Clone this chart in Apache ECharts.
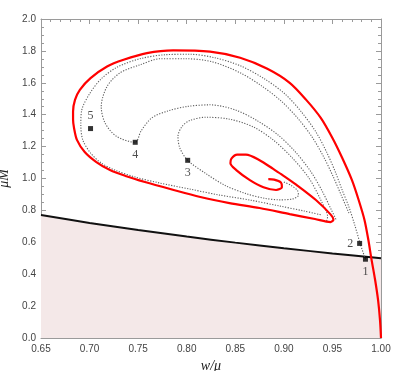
<!DOCTYPE html>
<html><head><meta charset="utf-8">
<script src="https://cdn.jsdelivr.net/npm/echarts@6/dist/echarts.min.js"></script>
<style>html,body{margin:0;padding:0;background:#fff}#c{width:400px;height:371px}</style>
</head><body><div id="c"></div>
<script>
// ---- data ----
const xTickLabels = ['0.65','0.70','0.75','0.80','0.85','0.90','0.95','1.00'];
const yTickLabels = ['0.0','0.2','0.4','0.6','0.8','1.0','1.2','1.4','1.6','1.8','2.0'];

const boundaryX = [0.65, 0.70, 0.75, 0.80, 0.85, 0.90, 0.95, 1.00];
const boundaryY = [0.771, 0.721, 0.677, 0.636, 0.598, 0.563, 0.530, 0.500];

const redCurve = [
  [1.000,0.000],[0.999,0.111],[0.997,0.237],[0.994,0.362],[0.990,0.501],[0.987,0.614],
  [0.983,0.740],[0.977,0.865],[0.970,0.991],[0.960,1.130],[0.950,1.254],[0.938,1.380],
  [0.923,1.493],[0.906,1.600],[0.883,1.688],[0.855,1.757],[0.824,1.795],[0.786,1.803],
  [0.759,1.786],[0.735,1.744],[0.718,1.702],[0.701,1.629],[0.690,1.556],[0.685,1.493],
  [0.683,1.420],[0.683,1.370],[0.684,1.317],[0.687,1.242],[0.695,1.166],[0.707,1.103],
  [0.721,1.053],[0.737,1.016],[0.757,0.978],[0.783,0.934],[0.814,0.884],[0.844,0.846],
  [0.875,0.815],[0.906,0.777],[0.932,0.746],[0.948,0.727],[0.951,0.742],[0.948,0.775],
  [0.933,0.865],[0.913,0.960],[0.899,1.020],[0.889,1.060],[0.875,1.115],[0.861,1.150],
  [0.852,1.150],[0.846,1.125],[0.845,1.095],[0.851,1.053],[0.865,0.990],[0.879,0.945],
  [0.892,0.928],[0.898,0.945],[0.897,0.975],[0.890,0.993],[0.884,0.996]
];

const dottedOuter = [
  [0.984,0.494],[0.9785,0.593],[0.973,0.708],[0.967,0.821],[0.960,0.928],[0.953,1.041],
  [0.944,1.166],[0.933,1.292],[0.918,1.418],[0.901,1.531],[0.880,1.625],[0.855,1.707],
  [0.829,1.757],[0.803,1.779],[0.778,1.776],[0.752,1.751],[0.729,1.700],[0.712,1.625],
  [0.700,1.531],[0.692,1.430],[0.691,1.336],[0.693,1.242],[0.701,1.160],[0.712,1.097],
  [0.726,1.053],[0.747,1.009],[0.772,0.972],[0.803,0.934],[0.834,0.896],[0.865,0.865],
  [0.896,0.827],[0.921,0.796],[0.939,0.771]
];

const dottedMiddle = [
  [0.967,0.783],[0.959,0.896],[0.951,1.009],[0.941,1.135],[0.929,1.261],[0.914,1.380],
  [0.897,1.487],[0.877,1.581],[0.855,1.663],[0.826,1.732],[0.798,1.751],[0.773,1.751],
  [0.752,1.713],[0.731,1.661],[0.718,1.577],[0.712,1.451],[0.716,1.347],[0.728,1.263],
  [0.747,1.227],[0.753,1.298],[0.764,1.380],[0.781,1.424],[0.801,1.452],[0.824,1.462],
  [0.850,1.430],[0.873,1.361],[0.894,1.273],[0.912,1.166],[0.928,1.041],[0.940,0.915],
  [0.949,0.802],[0.954,0.739]
];

const dottedInner = [
  [0.900,0.978],[0.908,0.955],[0.914,0.925],[0.915,0.895],[0.909,0.872],[0.896,0.866],
  [0.880,0.876],[0.861,0.905],[0.840,0.955],[0.820,1.030],[0.801,1.114],[0.793,1.190],
  [0.791,1.263],[0.795,1.325],[0.803,1.363],[0.820,1.384],[0.844,1.372],[0.868,1.325],
  [0.889,1.242],[0.909,1.127],[0.926,1.001],[0.938,0.865],[0.945,0.760],[0.944,0.733]
];

const pointNames = ['1','2','3','4','5'];
const pointX = [0.984, 0.978, 0.801, 0.747, 0.701];
const pointY = [0.494, 0.593, 1.114, 1.227, 1.313];

// ---- chart ----
const labelPlacement = ['bottom','left','bottom','bottom','top'];
const tickColor = '#9a9a9a';
const serif = 'Liberation Serif';
const sans = 'Liberation Sans';

function xAxisCfg(pos, showLabel){
  return {
    type:'value', min:0.65, max:1.0, interval:0.05, position:pos,
    axisLine:{show:true, onZero:false, lineStyle:{color:tickColor, width:1}},
    axisTick:{show:true, inside:true, length:5, lineStyle:{color:tickColor}},
    minorTick:{show:true, splitNumber:5, length:3, lineStyle:{color:tickColor}},
    splitLine:{show:false},
    axisLabel:{show:showLabel, margin:6, color:'#444', fontFamily:sans, fontSize:10,
      formatter:v=>xTickLabels[Math.round((v-0.65)/0.05)]},
    name: showLabel ? 'w/μ' : '', nameLocation:'middle', nameGap:14,
    nameTextStyle:{fontFamily:serif, fontStyle:'italic', fontSize:14, color:'#222'}
  };
}
function yAxisCfg(pos, showLabel){
  return {
    type:'value', min:0, max:2.0, interval:0.2, position:pos,
    axisLine:{show:true, onZero:false, lineStyle:{color:tickColor, width:1}},
    axisTick:{show:true, inside:true, length:5, lineStyle:{color:tickColor}},
    minorTick:{show:true, splitNumber:4, length:3, lineStyle:{color:tickColor}},
    splitLine:{show:false},
    axisLabel:{show:showLabel, margin:5, color:'#444', fontFamily:sans, fontSize:10,
      formatter:v=>yTickLabels[Math.round(v/0.2)]},
    name: showLabel ? 'μM' : '', nameLocation:'middle', nameGap:20,
    nameTextStyle:{fontFamily:serif, fontStyle:'italic', fontSize:14, color:'#222'}
  };
}

const chart = echarts.init(document.getElementById('c'), null, {renderer:'canvas'});
const dotStyle = {type:[1.2,1.5], width:1.1, color:'#5e5e5e'};
chart.setOption({
  animation:false,
  grid:{left:41, right:19, top:19, bottom:33, containLabel:false, outerBoundsMode:'none'},
  xAxis:[xAxisCfg('bottom', true), xAxisCfg('top', false)],
  yAxis:[yAxisCfg('left', true), yAxisCfg('right', false)],
  series:[
    {type:'line', data:boundaryX.map((x,i)=>[x,boundaryY[i]]), showSymbol:false, smooth:0.3,
     lineStyle:{color:'#111', width:2}, areaStyle:{color:'#f4e8e8', opacity:1}, z:1},
    {type:'line', data:dottedOuter, showSymbol:false, smooth:0.3, lineStyle:dotStyle, z:2},
    {type:'line', data:dottedMiddle, showSymbol:false, smooth:0.3, lineStyle:dotStyle, z:2},
    {type:'line', data:dottedInner, showSymbol:false, smooth:0.3, lineStyle:dotStyle, z:2},
    {type:'line', data:redCurve, showSymbol:false, smooth:0.3,
     lineStyle:{color:'#ff0000', width:2.2}, z:3},
    {type:'scatter', symbol:'rect', symbolSize:5, itemStyle:{color:'#000'}, z:4,
     data:pointNames.map((n,i)=>({name:n, value:[pointX[i],pointY[i]],
       label:{show:true, position:labelPlacement[i], distance:4, formatter:n,
         fontFamily:serif, fontSize:12, color:'#222'}}))}
  ]
});
</script></body></html>
